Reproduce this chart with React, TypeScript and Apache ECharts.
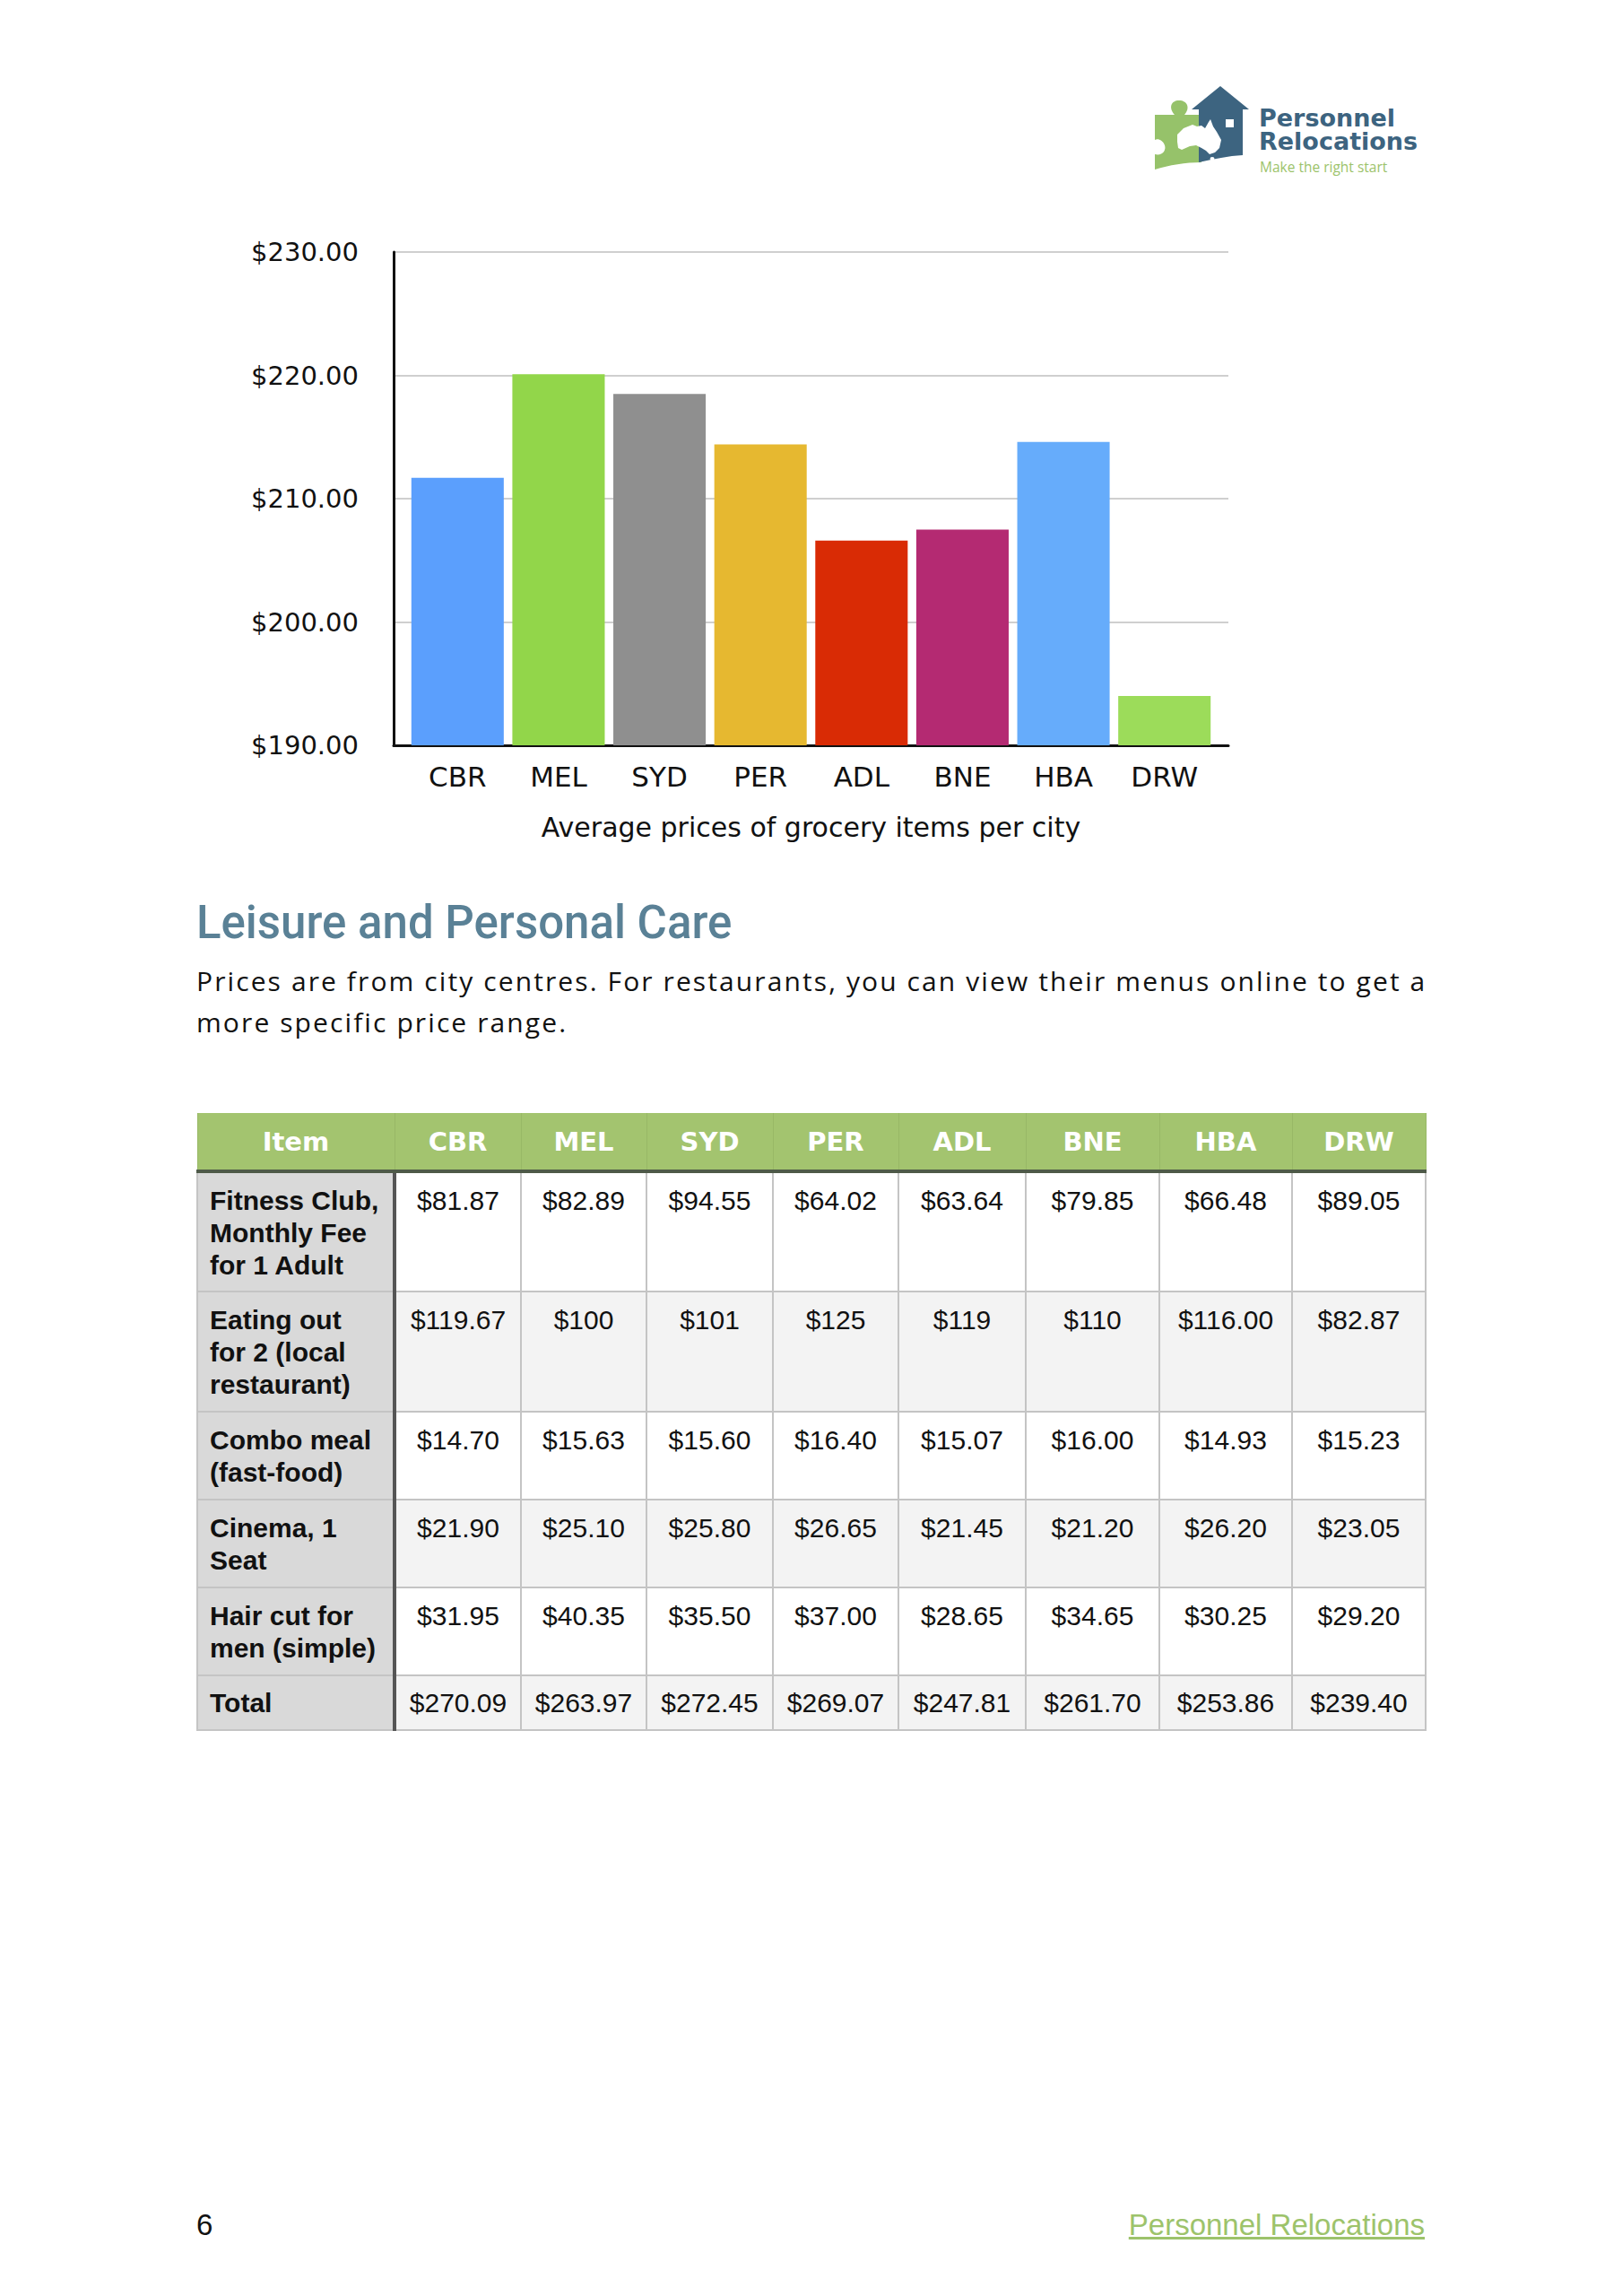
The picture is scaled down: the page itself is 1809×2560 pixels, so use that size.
import React, { useEffect, useRef } from "react";
import * as echarts from "echarts";

const cities = ["CBR", "MEL", "SYD", "PER", "ADL", "BNE", "HBA", "DRW"];
const groceryAvg = [211.7, 220.1, 218.5, 214.4, 206.6, 207.5, 214.6, 194.0];
const barColors = ["#5b9ffd", "#92d64a", "#8f8f8f", "#e6b830", "#d92b05", "#b42a72", "#66acfb", "#9cdc5a"];
const yTicks = { min: 190, max: 230, interval: 10 };
const axisTitle = "Average prices of grocery items per city";

const tableHeader = ["Item", "CBR", "MEL", "SYD", "PER", "ADL", "BNE", "HBA", "DRW"];
const rowItems = [
  ["Fitness Club,", "Monthly Fee", "for 1 Adult"],
  ["Eating out", "for 2 (local", "restaurant)"],
  ["Combo meal", "(fast-food)"],
  ["Cinema, 1", "Seat"],
  ["Hair cut for", "men (simple)"],
  ["Total"],
];
const fitness = ["$81.87", "$82.89", "$94.55", "$64.02", "$63.64", "$79.85", "$66.48", "$89.05"];
const eatingOut = ["$119.67", "$100", "$101", "$125", "$119", "$110", "$116.00", "$82.87"];
const comboMeal = ["$14.70", "$15.63", "$15.60", "$16.40", "$15.07", "$16.00", "$14.93", "$15.23"];
const cinema = ["$21.90", "$25.10", "$25.80", "$26.65", "$21.45", "$21.20", "$26.20", "$23.05"];
const haircut = ["$31.95", "$40.35", "$35.50", "$37.00", "$28.65", "$34.65", "$30.25", "$29.20"];
const totals = ["$270.09", "$263.97", "$272.45", "$269.07", "$247.81", "$261.70", "$253.86", "$239.40"];
const tableRows = [fitness, eatingOut, comboMeal, cinema, haircut, totals];

const colWidths = [220, 141, 140, 141, 140, 142, 149, 148, 149];
const headerHeight = 65;
const rowHeights = [134, 134, 98, 98, 98, 61];

function Chart() {
  const ref = useRef<HTMLDivElement>(null);
  useEffect(() => {
    if (!ref.current) return;
    const chart = echarts.init(ref.current, null, { renderer: "svg" });
    chart.setOption({
      animation: false,
      grid: [
        { left: 239, top: 41, width: 931, height: 550, containLabel: false },
        { left: 254, top: 41, width: 901, height: 550, containLabel: false },
      ],
      xAxis: [
        {
          type: "category",
          gridIndex: 0,
          data: cities,
          axisLine: { show: true, lineStyle: { color: "#111", width: 3 } },
          axisTick: { show: false },
          axisLabel: { show: false },
        },
        {
          type: "category",
          gridIndex: 1,
          data: cities,
          axisLine: { show: false },
          axisTick: { show: false },
          axisLabel: { fontSize: 31, color: "#111", margin: 19, fontFamily: "DejaVu Sans" },
          name: axisTitle,
          nameLocation: "middle",
          nameGap: 76,
          nameTextStyle: { fontSize: 30, color: "#111", fontFamily: "DejaVu Sans" },
        },
      ],
      yAxis: [
        {
          type: "value",
          gridIndex: 0,
          min: yTicks.min,
          max: yTicks.max,
          interval: yTicks.interval,
          axisLine: { show: true, lineStyle: { color: "#111", width: 3 } },
          axisTick: { show: false },
          splitLine: { show: true, lineStyle: { color: "#cfcfcf", width: 2 } },
          axisLabel: {
            fontSize: 29,
            color: "#111",
            margin: 39,
            fontFamily: "DejaVu Sans",
            formatter: (v: number) => "$" + v.toFixed(2),
          },
        },
        {
          type: "value",
          gridIndex: 1,
          min: yTicks.min,
          max: yTicks.max,
          interval: yTicks.interval,
          show: false,
          splitLine: { show: false },
        },
      ],
      series: [
        {
          type: "bar",
          xAxisIndex: 1,
          yAxisIndex: 1,
          barCategoryGap: "8.5%",
          data: groceryAvg.map((v, i) => ({ value: v, itemStyle: { color: barColors[i] } })),
        },
      ],
    });
    return () => chart.dispose();
  }, []);
  return <div ref={ref} style={{ position: "absolute", left: 200, top: 240, width: 1250, height: 740 }} />;
}

function Logo() {
  return (
    <>
      <svg
        style={{ position: "absolute", left: 1270, top: 85, overflow: "visible" }}
        width={140}
        height={120}
        viewBox="1270 85 140 120"
      >
        <path
          d="M1288 128 L1310 128 C1303 120 1306 112 1315 112 C1324 112 1328 120 1321 128 L1340 128 L1340 181 C1322 181 1304 184 1288 189 L1288 172 C1296 174 1301 168 1299 162 C1297 156 1291 154 1288 156 Z"
          fill="#96c26a"
        />
        <path
          d="M1329 122 L1361 96 L1393 122 L1386 122 L1386 173 C1370 174 1354 177 1337 181 L1337 122 Z"
          fill="#3d6480"
        />
        <rect x={1367} y={133} width={9} height={9} fill="#ffffff" />
        <path
          d="M1313 150 L1320 143 L1330 139 L1335 141 L1340 140 L1344 143 L1348 136 L1350 133 L1353 141 L1357 147 L1362 156 L1360 165 L1355 170 L1349 172 L1345 168 L1340 165 L1334 162 L1327 163 L1318 167 L1314 165 L1313 158 Z"
          fill="#ffffff"
        />
        <ellipse cx={1352} cy={177} rx={2.5} ry={2} fill="#ffffff" />
      </svg>
      <div
        style={{
          position: "absolute",
          left: 1404,
          top: 119,
          fontFamily: "DejaVu Sans",
          fontWeight: 700,
          fontSize: 27,
          lineHeight: "26px",
          color: "#3d6480",
          whiteSpace: "nowrap",
        }}
      >
        Personnel
        <br />
        Relocations
      </div>
      <div
        style={{
          position: "absolute",
          left: 1405,
          top: 177,
          fontFamily: "Open Sans",
          fontSize: 15.5,
          lineHeight: "18px",
          color: "#9cc36b",
          whiteSpace: "nowrap",
        }}
      >
        Make the right start
      </div>
    </>
  );
}

function Table() {
  const border = "2px solid #c4c4c4";
  const last = tableRows.length - 1;
  return (
    <table
      style={{
        position: "absolute",
        left: 219,
        top: 1241,
        borderCollapse: "collapse",
        tableLayout: "fixed",
        width: colWidths.reduce((a, b) => a + b, 0),
      }}
    >
      <colgroup>
        {colWidths.map((w, i) => (
          <col key={i} style={{ width: w }} />
        ))}
      </colgroup>
      <thead>
        <tr style={{ height: headerHeight }}>
          {tableHeader.map((h, i) => (
            <th
              key={i}
              style={{
                background: "#a3c46f",
                color: "#ffffff",
                fontFamily: "DejaVu Sans",
                fontWeight: 700,
                fontSize: 29,
                textAlign: "center",
                borderLeft: "1px solid #98b866",
                borderRight: "1px solid #98b866",
                borderBottom: "4px solid #4e5a48",
                padding: 0,
              }}
            >
              {h}
            </th>
          ))}
        </tr>
      </thead>
      <tbody>
        {tableRows.map((row, r) => (
          <tr key={r} style={{ height: rowHeights[r] }}>
            <td
              style={{
                background: "#d9d9d9",
                fontFamily: "Liberation Sans",
                fontWeight: 700,
                fontSize: 30,
                lineHeight: "36px",
                color: "#111",
                verticalAlign: r === last ? "middle" : "top",
                padding: r === last ? "0 4px 0 13px" : "13px 4px 0 13px",
                borderTop: border,
                borderBottom: border,
                borderLeft: border,
                borderRight: "4px solid #555555",
                whiteSpace: "nowrap",
              }}
            >
              {rowItems[r].map((line, k) => (
                <div key={k}>{line}</div>
              ))}
            </td>
            {row.map((v, c) => (
              <td
                key={c}
                style={{
                  background: r % 2 === 1 ? "#f3f3f3" : "#ffffff",
                  fontFamily: "Liberation Sans",
                  fontSize: 30,
                  lineHeight: "36px",
                  color: "#111",
                  textAlign: "center",
                  verticalAlign: r === last ? "middle" : "top",
                  padding: r === last ? 0 : "13px 0 0 0",
                  border: border,
                  whiteSpace: "nowrap",
                }}
              >
                {v}
              </td>
            ))}
          </tr>
        ))}
      </tbody>
    </table>
  );
}

export default function App() {
  return (
    <div style={{ position: "absolute", left: 0, top: 0, width: 1809, height: 2560, background: "#ffffff", overflow: "hidden" }}>
      <Logo />
      <Chart />
      <div
        style={{
          position: "absolute",
          left: 219,
          top: 999,
          fontFamily: "Roboto",
          fontWeight: 500,
          fontSize: 51,
          lineHeight: "60px",
          color: "#5a8196",
          whiteSpace: "nowrap",
        }}
      >
        Leisure and Personal Care
      </div>
      <div
        style={{
          position: "absolute",
          left: 219,
          top: 1071,
          fontFamily: "Open Sans",
          fontSize: 30,
          lineHeight: "46px",
          letterSpacing: 2.1,
          color: "#111",
          whiteSpace: "nowrap",
        }}
      >
        Prices are from city centres. For restaurants, you can view their menus online to get a
        <br />
        more specific price range.
      </div>
      <Table />
      <div
        style={{
          position: "absolute",
          left: 219,
          top: 2462,
          fontFamily: "Liberation Sans",
          fontSize: 33,
          lineHeight: "38px",
          color: "#111",
        }}
      >
        6
      </div>
      <div
        style={{
          position: "absolute",
          right: 1809 - 1589,
          top: 2462,
          fontFamily: "Liberation Sans",
          fontSize: 33,
          lineHeight: "38px",
          color: "#9dc36b",
          textDecoration: "underline",
        }}
      >
        Personnel Relocations
      </div>
    </div>
  );
}
